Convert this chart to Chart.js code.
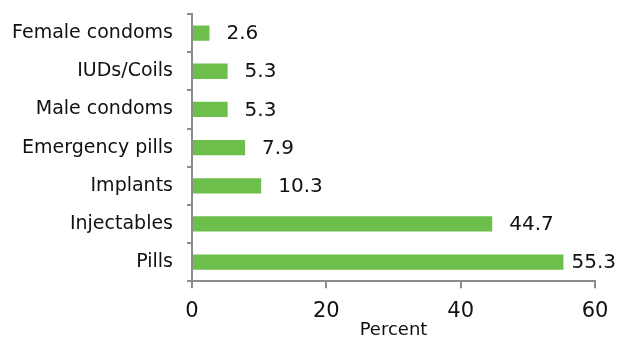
<!DOCTYPE html>
<html>
<head>
<meta charset="utf-8">
<script src="https://cdn.jsdelivr.net/npm/chart.js@4"></script>
<style>
  html, body { margin: 0; padding: 0; background: #fff; }
  #wrap { width: 617px; height: 339px; }
</style>
</head>
<body>
<div id="wrap"><canvas id="methodsChart"></canvas></div>
<script>
    "use strict";

    // data
    const methods = ["Female condoms", "IUDs/Coils", "Male condoms", "Emergency pills", "Implants", "Injectables", "Pills"];
    const percents = [2.6, 5.3, 5.3, 7.9, 10.3, 44.7, 55.3];
    const xTicks = [0, 20, 40, 60];

    const FONT = "'DejaVu Sans', 'Liberation Sans', sans-serif";

    // value labels at the end of each bar
    const barValues = {
        id: 'barValues',
        afterDatasetsDraw(chart) {
            const ctx = chart.ctx;
            const meta = chart.getDatasetMeta(0);
            ctx.save();
            ctx.font = "20px " + FONT;
            ctx.fillStyle = "#111";
            ctx.textBaseline = "middle";
            meta.data.forEach(function (bar, i) {
                const txt = percents[i].toFixed(1);
                let x = bar.x + 17;
                const w = ctx.measureText(txt).width;
                if (x + w > chart.width - 1) x = chart.width - 1 - w;
                ctx.fillText(txt, x, bar.y + 1);
            });
            ctx.restore();
        }
    };

    let methodsChart = document.getElementById("methodsChart");
    new Chart(methodsChart, {
        type: 'bar',
        data: {
            labels: methods,
            datasets: [{
                label: 'Percent',
                backgroundColor: '#6cbf4b',
                data: percents,
                barPercentage: 0.4,
                categoryPercentage: 1
            }]
        },
        options: {
            indexAxis: 'y',
            responsive: true,
            maintainAspectRatio: false,
            animation: false,
            layout: { padding: { top: 14, right: 22, left: 0, bottom: 0 } },
            plugins: {
                legend: { display: false },
                tooltip: { enabled: false }
            },
            scales: {
                x: {
                    min: 0,
                    max: 60,
                    afterBuildTicks: function (axis) {
                        axis.ticks = xTicks.map(function (v) { return { value: v }; });
                    },
                    afterFit: function (axis) {
                        axis.paddingRight = 0;
                    },
                    grid: {
                        display: true,
                        drawOnChartArea: false,
                        drawTicks: true,
                        tickLength: 7,
                        color: '#8c8c8c',
                        lineWidth: 2
                    },
                    border: { display: true, color: '#8c8c8c', width: 2 },
                    ticks: {
                        color: '#111',
                        font: { family: FONT, size: 21 },
                        padding: 11,
                        maxRotation: 0
                    },
                    title: {
                        display: true,
                        text: 'Percent',
                        color: '#111',
                        font: { family: FONT, size: 18 },
                        padding: { top: -16, bottom: -2 }
                    }
                },
                y: {
                    afterFit: function (axis) {
                        // fixed label column, no extra vertical padding
                        axis.width = 192;
                        axis.paddingTop = 0;
                        axis.paddingBottom = 0;
                    },
                    grid: {
                        display: true,
                        drawOnChartArea: false,
                        drawTicks: true,
                        tickLength: 5,
                        offset: true,
                        color: '#8c8c8c',
                        lineWidth: 2
                    },
                    border: { display: true, color: '#8c8c8c', width: 2 },
                    ticks: {
                        color: '#111',
                        font: { family: FONT, size: 19 },
                        padding: 14
                    }
                }
            }
        },
        plugins: [barValues]
    });
</script>
</body>
</html>
